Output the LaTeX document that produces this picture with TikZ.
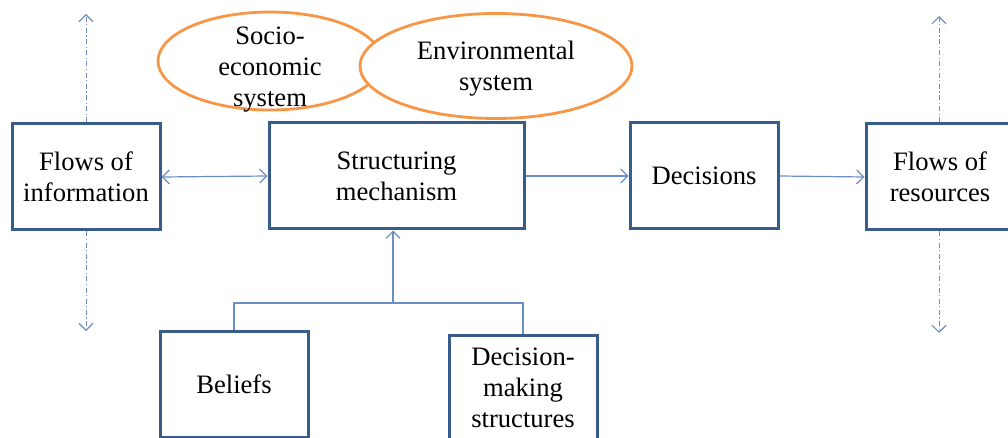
\documentclass[tikz,border=0pt]{standalone}
\usepackage{fontspec}
\setmainfont{Liberation Serif}
\usetikzlibrary{arrows.meta,shapes.geometric}
\definecolor{boxblue}{HTML}{385D8A}
\definecolor{arrowblue}{HTML}{6A8FC4}
\definecolor{ellorange}{HTML}{F79646}
\tikzset{
  txt/.style={align=center, inner sep=0pt, font=\fontsize{26.6}{31}\selectfont},
  box/.style={txt, draw=boxblue, line width=3pt, fill=white, minimum width=148pt, minimum height=106pt},
  ell/.style={draw=ellorange, line width=2.8pt, fill=white, ellipse, inner sep=0pt},
  conn/.style={draw=arrowblue, line width=1.2pt},
  tip/.style={-{Straight Barb[length=7pt,width=14pt,line width=1.2pt]}},
  dtip/.style={{Straight Barb[length=7pt,width=14pt,line width=1.2pt]}-{Straight Barb[length=7pt,width=14pt,line width=1.2pt]}},
  dashdot/.style={dash pattern=on 5pt off 2.5pt on 1.2pt off 2.5pt}
}
\begin{document}
\begin{tikzpicture}[x=1pt,y=-1pt]
\useasboundingbox (0,0) rectangle (1008,438);
% ellipses
\node[ell, minimum width=224pt, minimum height=98pt] (socio) at (270,61) {};
\node[ell, minimum width=272pt, minimum height=105pt] (env) at (496,66) {};
\node[txt] (sociotext) at (270,70) {Socio-\\economic\\system};
\node[txt] (envtext) at (496,69) {Environmental\\system};
% boxes
\node[box] (info) at (86,177) {Flows of\\information};
\node[box, minimum width=255pt] (struct) at (396.5,176) {Structuring\\mechanism};
\node[box] (dec) at (704,176) {Decisions};
\node[box] (res) at (940,177) {Flows of\\resources};
\node[box] (beliefs) at (234,384) {Beliefs};
\node[box] (dm) at (523,388) {Decision-\\making\\structures};
% coordinates
\coordinate (j) at (393,303);
\coordinate (infoup) at (86,14);
\coordinate (infodown) at (86,331);
\coordinate (resup) at (939,16);
\coordinate (resdown) at (939,333);
% connectors
\draw[conn, dtip] (info.east) -- (struct.west);
\draw[conn, tip] (struct.east) -- (dec.west);
\draw[conn, tip] (dec.east) -- (res.west);
\draw[conn, tip] (j) -- (j |- struct.south);
\draw[conn] (beliefs.north) -- (beliefs.north |- j) -- (dm.north |- j) -- (dm.north);
\draw[conn, tip, dashdot, line width=1pt] (info.north) -- (infoup);
\draw[conn, tip, dashdot, line width=1pt] (info.south) -- (infodown);
\draw[conn, tip, dashdot, line width=1pt] (res.north -| resup) -- (resup);
\draw[conn, tip, dashdot, line width=1pt] (res.south -| resdown) -- (resdown);
\end{tikzpicture}
\end{document}
